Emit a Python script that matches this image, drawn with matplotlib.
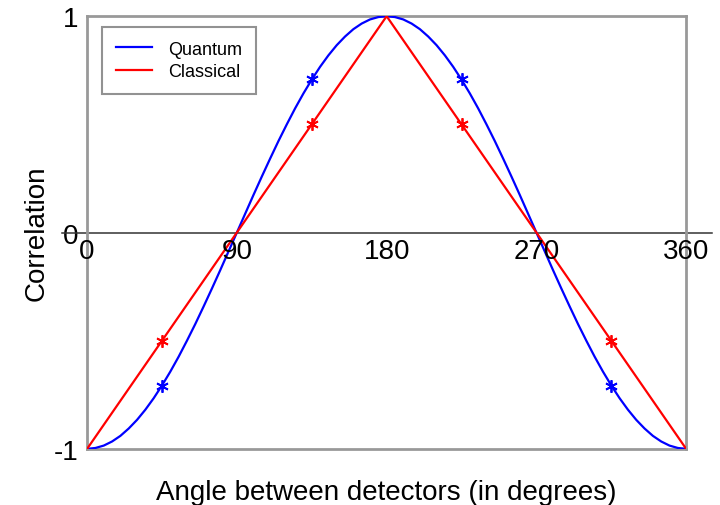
import matplotlib
matplotlib.use("Agg")
import matplotlib.pyplot as plt

plt.rcParams['font.family'] = ['Liberation Sans', 'DejaVu Sans']

# angle in degrees, read every 5 degrees off the blue curve
quantum_x = [0, 5, 10, 15, 20, 25, 30, 35, 40, 45, 50, 55, 60, 65, 70, 75, 80, 85,
             90, 95, 100, 105, 110, 115, 120, 125, 130, 135, 140, 145, 150, 155, 160, 165, 170, 175,
             180, 185, 190, 195, 200, 205, 210, 215, 220, 225, 230, 235, 240, 245, 250, 255, 260, 265,
             270, 275, 280, 285, 290, 295, 300, 305, 310, 315, 320, 325, 330, 335, 340, 345, 350, 355, 360]
quantum_y = [-1.0, -0.996, -0.985, -0.966, -0.94, -0.906, -0.866, -0.819, -0.766, -0.707,
             -0.643, -0.574, -0.5, -0.423, -0.342, -0.259, -0.174, -0.087,
             0.0, 0.087, 0.174, 0.259, 0.342, 0.423, 0.5, 0.574, 0.643, 0.707,
             0.766, 0.819, 0.866, 0.906, 0.94, 0.966, 0.985, 0.996,
             1.0, 0.996, 0.985, 0.966, 0.94, 0.906, 0.866, 0.819, 0.766, 0.707,
             0.643, 0.574, 0.5, 0.423, 0.342, 0.259, 0.174, 0.087,
             0.0, -0.087, -0.174, -0.259, -0.342, -0.423, -0.5, -0.574, -0.643, -0.707,
             -0.766, -0.819, -0.866, -0.906, -0.94, -0.966, -0.985, -0.996, -1.0]

classical_x = [0, 90, 180, 270, 360]
classical_y = [-1, 0, 1, 0, -1]

# marked points
mark_x = [45, 135, 225, 315]
mark_quantum = [-0.71, 0.71, 0.71, -0.71]
mark_classical = [-0.5, 0.5, 0.5, -0.5]

xtick_vals = [0, 90, 180, 270, 360]
ytick_vals = [-1, 0, 1]

fig = plt.figure(figsize=(7.2, 5.06), dpi=100)
ax = fig.add_axes([0.121, 0.111, 0.832, 0.855])

ax.plot(quantum_x, quantum_y, color='#0000ff', lw=1.6, label='Quantum', zorder=3)
ax.plot(classical_x, classical_y, color='#ff0000', lw=1.6, label='Classical', zorder=3)
ax.plot(mark_x, mark_quantum, ls='none', marker=(6, 2, 0), ms=9, mew=1.3,
        color='#0000ff', zorder=4)
ax.plot(mark_x, mark_classical, ls='none', marker=(6, 2, 0), ms=9, mew=1.3,
        color='#ff0000', zorder=4)

ax.set_xlim(0, 360)
ax.set_ylim(-1, 1)

# zero line sticking out past the box
ax.plot([-0.042, 1.043], [0, 0], color='#333333', lw=1.1,
        transform=ax.get_yaxis_transform(), clip_on=False, zorder=2)

ax.set_xticks([])
ax.set_yticks(ytick_vals)
ax.set_yticklabels([str(v) for v in ytick_vals], fontsize=20)
ax.tick_params(axis='y', length=0, pad=6)

for v in xtick_vals:
    ax.annotate(str(v), (v, 0), xytext=(0, -4), textcoords='offset points',
                ha='center', va='top', fontsize=20, annotation_clip=False)

for s in ax.spines.values():
    s.set_color('#999999')
    s.set_linewidth(2)

ax.set_ylabel('Correlation', fontsize=20, labelpad=3)
ax.set_xlabel('Angle between detectors (in degrees)', fontsize=20, labelpad=22)

leg = ax.legend(loc='upper left', bbox_to_anchor=(0.025, 0.975), borderaxespad=0,
                fontsize=13, fancybox=False, handlelength=2.0, handletextpad=0.9,
                labelspacing=0.3, borderpad=0.75)
leg.get_frame().set_edgecolor('#777777')
leg.get_frame().set_linewidth(1.5)

fig.savefig('out.png', dpi=100)
